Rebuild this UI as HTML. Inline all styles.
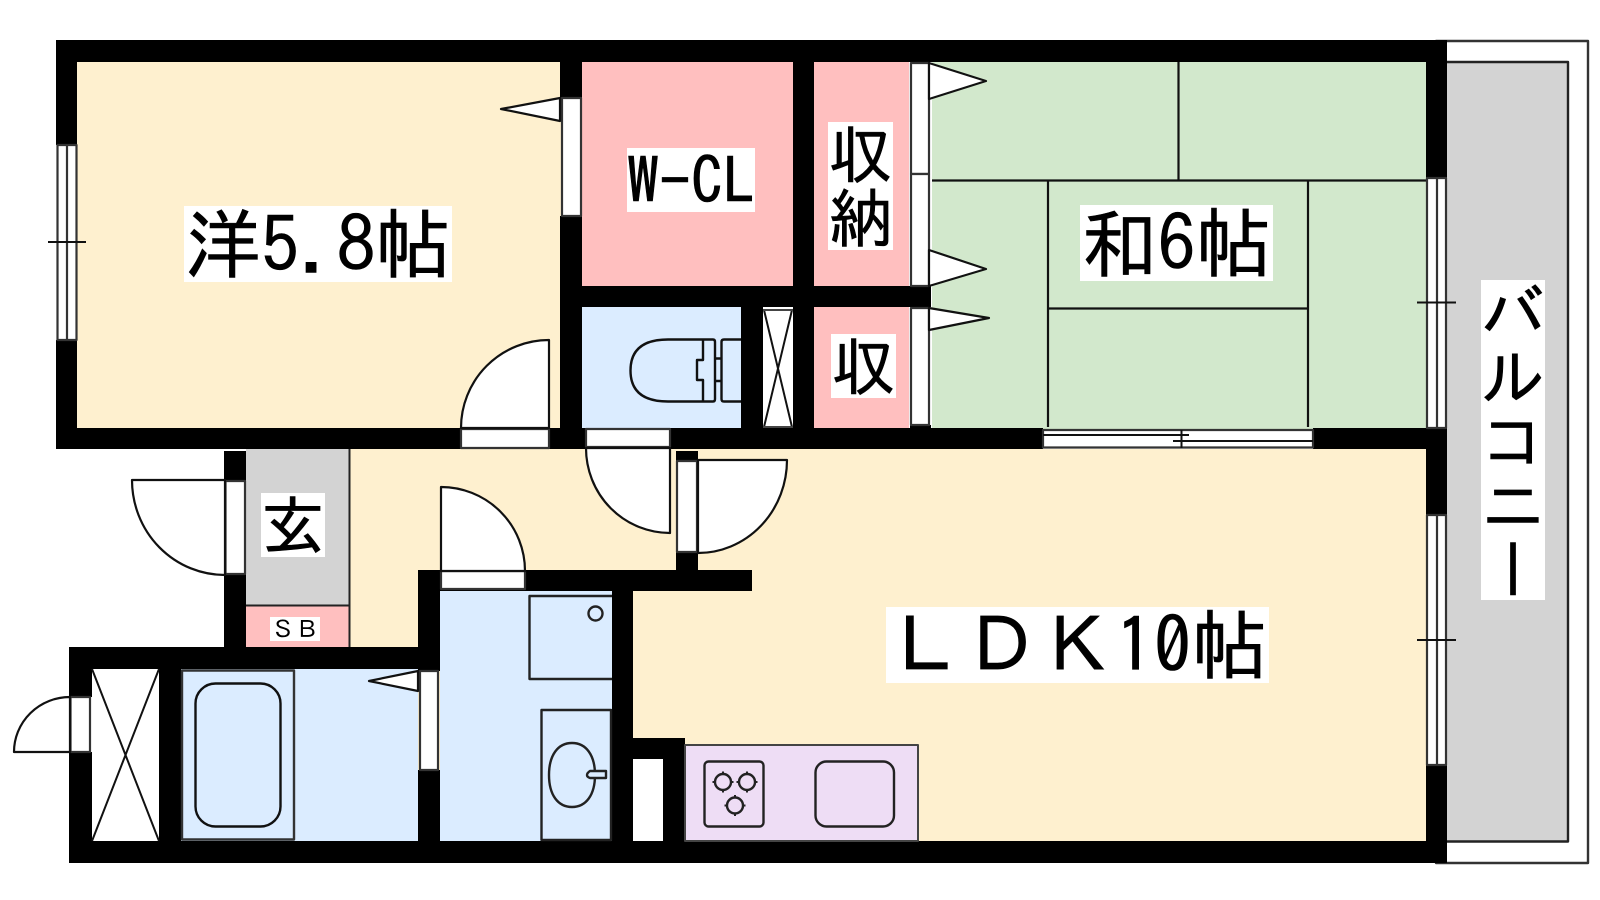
<!DOCTYPE html>
<html lang="ja"><head><meta charset="utf-8"><title>間取り図</title>
<style>
html,body{margin:0;padding:0;background:#fff}
body{width:1600px;height:900px;position:relative;overflow:hidden}
svg{position:absolute;left:0;top:0}
.l{position:absolute;background:#fff;color:#000;font-family:"IPAGothic","Noto Sans CJK JP",sans-serif;white-space:nowrap;text-align:center;-webkit-text-stroke:.6px #000}
.v{writing-mode:vertical-rl;text-orientation:upright}
</style></head><body>
<svg width="1600" height="900" viewBox="0 0 1600 900" fill="none" stroke-linejoin="round">
<!-- balcony -->
<rect x="1436" y="41" width="152" height="822" fill="#fff" stroke="#333" stroke-width="2.400"/>
<rect x="1440" y="62" width="128" height="779.500" fill="#d3d3d3" stroke="#222" stroke-width="2.400"/>
<!-- rooms -->
<rect x="77" y="62" width="484" height="367" fill="#fef0cf"/>
<rect x="350" y="449" width="1077" height="393" fill="#fef0cf"/>
<rect x="932" y="62" width="495" height="367" fill="#d2e8cc"/>
<rect x="582" y="62" width="212" height="225" fill="#ffbfbf"/>
<rect x="814" y="62" width="95" height="225" fill="#ffbfbf"/>
<rect x="814" y="307" width="95" height="122" fill="#ffbfbf"/>
<rect x="582" y="307" width="160" height="122" fill="#dbecff"/>
<rect x="763" y="308" width="30" height="120" fill="#fff"/>
<rect x="246" y="449" width="103" height="156" fill="#d3d3d3"/>
<rect x="246" y="606" width="103" height="42" fill="#ffbfbf"/>
<path d="M246 605.500H349.500M349.500 449V647" stroke="#222" stroke-width="2"/>
<rect x="92" y="669" width="67" height="172" fill="#fff"/>
<rect x="181" y="669" width="237" height="172" fill="#dbecff"/>
<rect x="440" y="590" width="172" height="251" fill="#dbecff"/>
<rect x="633" y="759" width="30" height="82" fill="#fff"/>
<rect x="685" y="745" width="233" height="96" fill="#eeddf5"/>
<!-- tatami lines -->
<g stroke="#111" stroke-width="2.200">
<path d="M932 180.500H1426M1178.500 62V180M1048 180V427M1308 180V427M1048 308.500H1308"/>
</g>
<!-- walls -->
<g fill="#000">
<rect x="56" y="40" width="1391" height="22"/>
<rect x="56" y="40" width="21" height="105"/>
<rect x="56" y="340" width="21" height="109"/>
<rect x="56" y="428" width="405" height="21"/>
<rect x="549" y="428" width="37" height="21"/>
<rect x="670" y="428" width="373" height="21"/>
<rect x="1313" y="428" width="134" height="21"/>
<rect x="560" y="62" width="22" height="36"/>
<rect x="560" y="216" width="22" height="212"/>
<rect x="560" y="286" width="371" height="21"/>
<rect x="793" y="62" width="21" height="366"/>
<rect x="741" y="286" width="22" height="142"/>
<rect x="1426" y="40" width="21" height="138"/>
<rect x="1426" y="428" width="21" height="87"/>
<rect x="1426" y="765" width="21" height="98"/>
<rect x="69" y="841" width="1378" height="22"/>
<rect x="69" y="647" width="371" height="22"/>
<rect x="69" y="647" width="23" height="50"/>
<rect x="69" y="752" width="23" height="111"/>
<rect x="159" y="669" width="22" height="172"/>
<rect x="224" y="451" width="22" height="30"/>
<rect x="224" y="574" width="22" height="73"/>
<rect x="418" y="570" width="22" height="101"/>
<rect x="418" y="770" width="22" height="72"/>
<rect x="418" y="570" width="334" height="21"/>
<rect x="612" y="570" width="21" height="272"/>
<rect x="676" y="451" width="22" height="10"/>
<rect x="676" y="552" width="22" height="25"/>
<rect x="633" y="738" width="52" height="21"/>
<rect x="663" y="738" width="22" height="104"/>
<rect x="910" y="425" width="21" height="4"/>
</g>
<!-- windows, openings -->
<g fill="#fff" stroke="#333" stroke-width="2.200">
<rect x="57.500" y="145" width="19" height="195"/><path d="M67 145V340"/>
<rect x="1427" y="178" width="19" height="250"/><path d="M1437 178V428"/>
<rect x="1427" y="515" width="19" height="250"/><path d="M1437 515V765"/>
<rect x="1043" y="430" width="270" height="17.500"/>
<rect x="562" y="98" width="19" height="118"/>
<rect x="911" y="63" width="18" height="111"/>
<rect x="911" y="174" width="18" height="112"/>
<rect x="911" y="308" width="18" height="117"/>
<rect x="461" y="429" width="88" height="19"/>
<rect x="586" y="429" width="84" height="18"/>
<rect x="441" y="571" width="84" height="18"/>
<rect x="677" y="461" width="20" height="91"/>
<rect x="225.500" y="481" width="19.500" height="93"/>
<rect x="70.500" y="697" width="19.500" height="55"/>
<rect x="420" y="671" width="18" height="99"/>
<!-- doors -->
<path d="M461 428A88 88 0 0 1 549 340V428Z" stroke="#111"/>
<path d="M586 448A84 85 0 0 0 670 533V448Z" stroke="#111"/>
<path d="M441 571V487A84 84 0 0 1 525 571Z" stroke="#111"/>
<path d="M698 460H787A89 93 0 0 1 698 553Z" stroke="#111"/>
<path d="M225 480H132A93 95 0 0 0 225 575Z" stroke="#111"/>
<path d="M70 697A56 55 0 0 0 14 752H70Z" stroke="#111"/>
<!-- wedges -->
<path d="M560 98L501 109L560 121Z" stroke="#111"/>
<path d="M929 63L986 81L929 99Z" stroke="#111"/>
<path d="M929 250L986 269L929 286Z" stroke="#111"/>
<path d="M929 308L989 318L929 330Z" stroke="#111"/>
<path d="M418 671L369 681L418 691Z" stroke="#111"/>
</g>
<g stroke="#111" stroke-width="2">
<path d="M48 242H86M1417 302.500H1456M1417 640H1456"/>
<path d="M1043 435H1189M1173 441H1313M1181.500 430V448"/>
<path d="M92 669L159 841M159 669L92 841"/>
<path d="M764 310L792 427M792 310L764 427"/>
</g>
<path d="M763 310H793M763 427H793" stroke="#444" stroke-width="2"/>
<!-- bath -->
<rect x="182" y="670.500" width="112" height="169" stroke="#333" stroke-width="2.400"/>
<rect x="195.500" y="683.500" width="85" height="143" rx="20" stroke="#111" stroke-width="2.400"/>
<!-- toilet -->
<g stroke="#111" stroke-width="2.400">
<path d="M703 339.500H668Q630.500 339.500 630.500 370.500Q630.500 401.500 668 401.500H703V380H697V360H703ZM703 339.500H713Q715 339.500 715 342V399Q715 401.500 713 401.500H703M715 358.500H721M715 381H721M741 339.500H724Q721.500 339.500 721.500 342V399Q721.500 401.500 724 401.500H741"/>
</g>
<!-- washroom -->
<g stroke="#222" stroke-width="2.400">
<path d="M612 596H529.500V679H612"/>
<circle cx="595.500" cy="613.500" r="7"/>
<path d="M611 710H541.500V840H611Z"/>
<path d="M572 743C586 743 595 755 595 775C595 795 586 807 572 807C558 807 549 795 549 775C549 755 558 743 572 743Z"/>
<path d="M606 771H590Q587 773 587 775Q587 777 590 778H606Z" fill="#dbecff"/>
</g>
<!-- kitchen -->
<g stroke="#222" stroke-width="2.400">
<rect x="685" y="745" width="233" height="96" stroke="#444" stroke-width="2"/>
<rect x="704.500" y="761.500" width="59" height="65" rx="4"/>
<rect x="815.500" y="761.500" width="78.500" height="65" rx="11"/>
<circle cx="723" cy="782" r="8"/><circle cx="747" cy="782" r="8"/><circle cx="735" cy="805.500" r="8"/>
<path stroke-width="2" d="M723 771.500V775M723 789V792.500M712.500 782H716M730 782H733.500M747 771.500V775M747 789V792.500M736.500 782H740M754 782H757.500M735 795V798.500M735 812.500V816M724.500 805.500H728M742 805.500H745.500"/>
</g>
</svg>
<div class="l" style="left:184px;top:206px;width:268px;height:76px;font-size:76px;line-height:76px">洋5.8帖</div>
<div class="l" style="left:1080px;top:205px;width:193px;height:76px;font-size:76px;line-height:76px">和6帖</div>
<div class="l" style="left:886px;top:607px;width:383px;height:76px;font-size:76px;line-height:76px">ＬＤＫ10帖</div>
<div class="l" style="left:627px;top:148px;width:128px;height:64px;font-size:64px;line-height:64px">W-CL</div>
<div class="l" style="left:828px;top:122px;width:65px;height:128px;font-size:64px;line-height:64px">収<br>納</div>
<div class="l" style="left:831px;top:334px;width:65px;height:64px;font-size:64px;line-height:64px">収</div>
<div class="l" style="left:261px;top:493px;width:64px;height:64px;font-size:64px;line-height:64px">玄</div>
<div class="l" style="left:270px;top:617px;width:50px;height:24px;font-size:24px;line-height:24px;-webkit-text-stroke:0">ＳＢ</div>
<div class="l v" style="left:1481px;top:280px;width:64px;height:320px;font-size:64px;line-height:64px">バルコニー</div>
</body></html>
